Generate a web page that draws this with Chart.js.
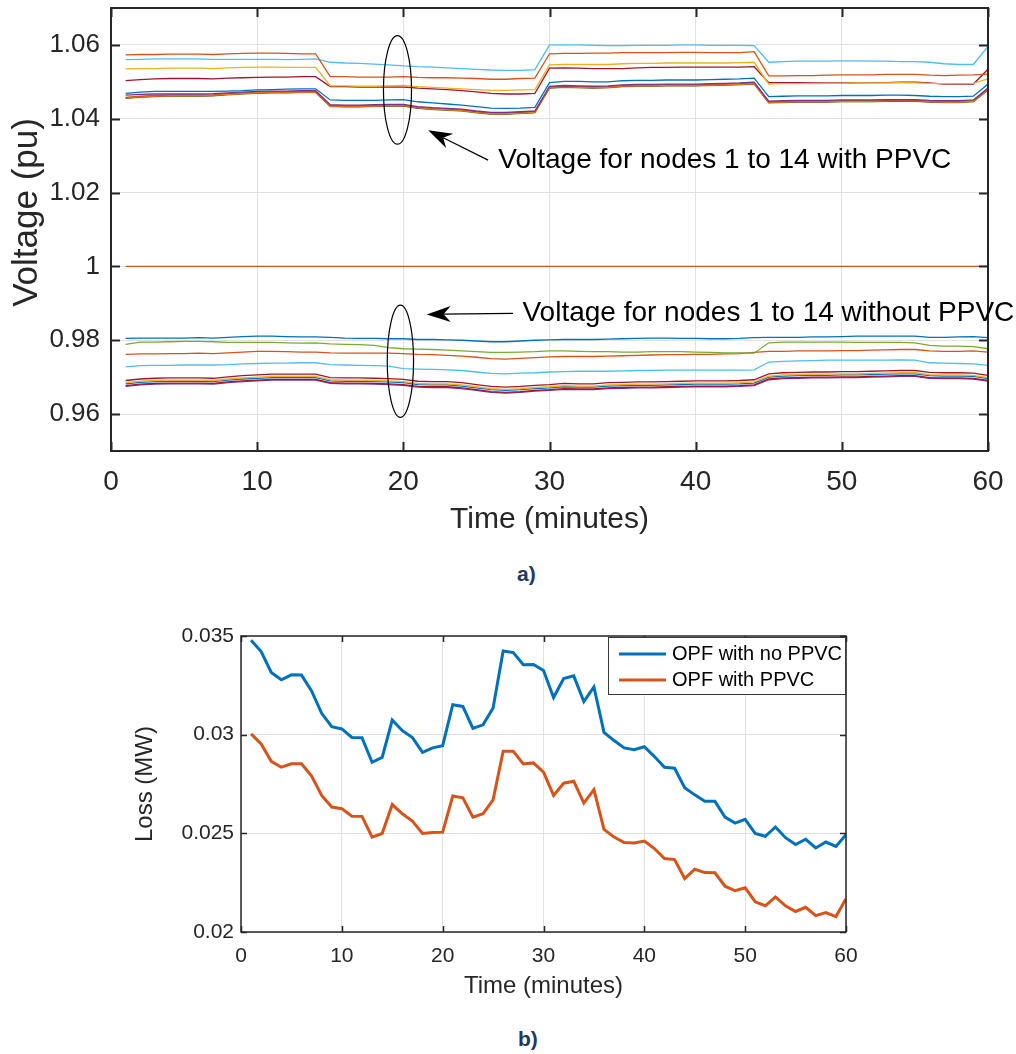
<!DOCTYPE html>
<html>
<head>
<meta charset="utf-8">
<script src="https://cdn.jsdelivr.net/npm/chart.js@4.4.1/dist/chart.umd.min.js"></script>
<style>
    body { margin: 0; background: #fff; width: 1016px; height: 1054px; position: relative; overflow: hidden; font-family: "Liberation Sans", Arial, sans-serif; }
    #voltChart { position: absolute; left: 0; top: 0; }
    #lossChart { position: absolute; left: 0; top: 600px; }
    .cap { position: absolute; font-weight: bold; font-size: 21px; color: #1f3864; }
</style>
</head>
<body>
<canvas id="voltChart" width="1016" height="560"></canvas>
<div class="cap" style="left:517px;top:562px">a)</div>
<canvas id="lossChart" width="1016" height="410"></canvas>
<div class="cap" style="left:518px;top:1027px">b)</div>
<script>
const minutes = [1, 2, 3, 4, 5, 6, 7, 8, 9, 10, 11, 12, 13, 14, 15, 16, 17, 18, 19, 20,
    21, 22, 23, 24, 25, 26, 27, 28, 29, 30, 31, 32, 33, 34, 35, 36, 37, 38, 39, 40,
    41, 42, 43, 44, 45, 46, 47, 48, 49, 50, 51, 52, 53, 54, 55, 56, 57, 58, 59, 60];
const timeTicks = [0, 10, 20, 30, 40, 50, 60];
const voltTicks = [0.96, 0.98, 1, 1.02, 1.04, 1.06];
const lossTicks = [0.02, 0.025, 0.03, 0.035];

// node voltages with PPVC (pu)
const ppvcOrange = [1.0573, 1.0574, 1.0574, 1.0575, 1.0575, 1.0575, 1.0574, 1.0576, 1.0577, 1.0578, 1.0578, 1.0577, 1.0576, 1.0576,
    1.0514, 1.0514, 1.0513, 1.0513, 1.0513, 1.0514, 1.0512, 1.0511, 1.0511, 1.0510, 1.0509, 1.0507, 1.0507, 1.0509, 1.0510,
    1.0576, 1.0577, 1.0577, 1.0578, 1.0578, 1.0579, 1.0579, 1.0579, 1.0579, 1.0580, 1.0580, 1.0579, 1.0579, 1.0579, 1.0582,
    1.0516, 1.0516, 1.0517, 1.0517, 1.0518, 1.0519, 1.0519, 1.0519, 1.0520, 1.0520, 1.0520, 1.0518, 1.0517, 1.0518, 1.0519, 1.0521];
const ppvcLightBlue = [1.0560, 1.0561, 1.0562, 1.0562, 1.0562, 1.0562, 1.0561, 1.0561, 1.0561, 1.0561, 1.0561, 1.0560, 1.0561, 1.0562,
    1.0553, 1.0551, 1.0550, 1.0548, 1.0546, 1.0543, 1.0541, 1.0540, 1.0538, 1.0536, 1.0534, 1.0532, 1.0531, 1.0531, 1.0533,
    1.0600, 1.0600, 1.0600, 1.0599, 1.0598, 1.0598, 1.0599, 1.0599, 1.0599, 1.0600, 1.0600, 1.0599, 1.0599, 1.0599, 1.0598,
    1.0553, 1.0555, 1.0556, 1.0556, 1.0556, 1.0557, 1.0557, 1.0556, 1.0556, 1.0555, 1.0555, 1.0553, 1.0549, 1.0547, 1.0547, 1.0596];
const ppvcYellow = [1.0535, 1.0536, 1.0536, 1.0537, 1.0537, 1.0537, 1.0536, 1.0538, 1.0539, 1.0540, 1.0540, 1.0539, 1.0539, 1.0539,
    1.0489, 1.0489, 1.0488, 1.0488, 1.0489, 1.0490, 1.0487, 1.0485, 1.0483, 1.0481, 1.0479, 1.0477, 1.0477, 1.0478, 1.0479,
    1.0546, 1.0547, 1.0547, 1.0547, 1.0547, 1.0549, 1.0550, 1.0550, 1.0551, 1.0551, 1.0551, 1.0551, 1.0551, 1.0552, 1.0553,
    1.0494, 1.0495, 1.0495, 1.0495, 1.0496, 1.0496, 1.0497, 1.0497, 1.0497, 1.0498, 1.0497, 1.0496, 1.0495, 1.0495, 1.0496, 1.0508];
const ppvcDarkRed = [1.0503, 1.0506, 1.0508, 1.0509, 1.0509, 1.0509, 1.0508, 1.0510, 1.0511, 1.0512, 1.0513, 1.0513, 1.0514, 1.0514,
    1.0487, 1.0487, 1.0486, 1.0486, 1.0486, 1.0486, 1.0483, 1.0481, 1.0479, 1.0476, 1.0473, 1.0469, 1.0467, 1.0467, 1.0469,
    1.0537, 1.0538, 1.0537, 1.0536, 1.0536, 1.0536, 1.0538, 1.0539, 1.0539, 1.0540, 1.0540, 1.0540, 1.0540, 1.0540, 1.0541,
    1.0498, 1.0498, 1.0498, 1.0497, 1.0497, 1.0497, 1.0497, 1.0498, 1.0498, 1.0499, 1.0499, 1.0497, 1.0494, 1.0494, 1.0494, 1.0534];
const ppvcBlue = [1.0469, 1.0472, 1.0474, 1.0474, 1.0474, 1.0474, 1.0474, 1.0475, 1.0476, 1.0478, 1.0479, 1.0480, 1.0481, 1.0481,
    1.0451, 1.0450, 1.0450, 1.0450, 1.0451, 1.0452, 1.0446, 1.0443, 1.0440, 1.0437, 1.0433, 1.0429, 1.0428, 1.0429, 1.0431,
    1.0498, 1.0501, 1.0501, 1.0500, 1.0500, 1.0503, 1.0504, 1.0504, 1.0505, 1.0505, 1.0505, 1.0506, 1.0507, 1.0508, 1.0510,
    1.0460, 1.0461, 1.0462, 1.0462, 1.0462, 1.0463, 1.0463, 1.0463, 1.0464, 1.0464, 1.0463, 1.0461, 1.0460, 1.0460, 1.0461, 1.0494];
const ppvcPurple = [1.0464, 1.0466, 1.0467, 1.0467, 1.0467, 1.0467, 1.0468, 1.0470, 1.0472, 1.0474, 1.0475, 1.0475, 1.0476, 1.0476,
    1.0438, 1.0437, 1.0437, 1.0438, 1.0439, 1.0439, 1.0433, 1.0430, 1.0428, 1.0426, 1.0421, 1.0417, 1.0417, 1.0419, 1.0421,
    1.0488, 1.0490, 1.0489, 1.0488, 1.0489, 1.0492, 1.0493, 1.0493, 1.0494, 1.0494, 1.0494, 1.0495, 1.0496, 1.0497, 1.0499,
    1.0448, 1.0449, 1.0450, 1.0450, 1.0450, 1.0451, 1.0451, 1.0451, 1.0452, 1.0452, 1.0452, 1.0450, 1.0449, 1.0449, 1.0451, 1.0483];
const ppvcOrange2 = [1.0458, 1.0461, 1.0463, 1.0464, 1.0464, 1.0464, 1.0465, 1.0468, 1.0470, 1.0472, 1.0473, 1.0473, 1.0474, 1.0474,
    1.0436, 1.0435, 1.0435, 1.0436, 1.0437, 1.0437, 1.0431, 1.0428, 1.0426, 1.0424, 1.0419, 1.0415, 1.0415, 1.0417, 1.0419,
    1.0486, 1.0488, 1.0487, 1.0486, 1.0487, 1.0490, 1.0491, 1.0491, 1.0492, 1.0492, 1.0492, 1.0493, 1.0494, 1.0495, 1.0497,
    1.0446, 1.0447, 1.0448, 1.0448, 1.0448, 1.0449, 1.0449, 1.0449, 1.0450, 1.0450, 1.0450, 1.0448, 1.0447, 1.0447, 1.0449, 1.0481];
const ppvcYellow2 = [1.0457, 1.0460, 1.0462, 1.0463, 1.0463, 1.0463, 1.0464, 1.0467, 1.0469, 1.0471, 1.0472, 1.0472, 1.0473, 1.0473,
    1.0435, 1.0434, 1.0434, 1.0435, 1.0436, 1.0436, 1.0430, 1.0427, 1.0425, 1.0423, 1.0418, 1.0414, 1.0414, 1.0416, 1.0418,
    1.0485, 1.0487, 1.0486, 1.0485, 1.0486, 1.0489, 1.0490, 1.0490, 1.0491, 1.0491, 1.0491, 1.0492, 1.0493, 1.0494, 1.0496,
    1.0445, 1.0446, 1.0447, 1.0447, 1.0447, 1.0448, 1.0448, 1.0448, 1.0449, 1.0449, 1.0449, 1.0447, 1.0446, 1.0446, 1.0448, 1.0480];
const ppvcDarkRed2 = [1.0456, 1.0459, 1.0461, 1.0462, 1.0462, 1.0462, 1.0463, 1.0466, 1.0468, 1.0470, 1.0471, 1.0471, 1.0472, 1.0472,
    1.0434, 1.0433, 1.0433, 1.0434, 1.0435, 1.0435, 1.0429, 1.0426, 1.0424, 1.0422, 1.0417, 1.0413, 1.0413, 1.0415, 1.0417,
    1.0484, 1.0486, 1.0485, 1.0484, 1.0485, 1.0488, 1.0489, 1.0489, 1.0490, 1.0490, 1.0490, 1.0491, 1.0492, 1.0493, 1.0495,
    1.0444, 1.0445, 1.0446, 1.0446, 1.0446, 1.0447, 1.0447, 1.0447, 1.0448, 1.0448, 1.0448, 1.0446, 1.0445, 1.0445, 1.0447, 1.0479];
const ppvcGreen = [1.0455, 1.0458, 1.0460, 1.0461, 1.0461, 1.0461, 1.0462, 1.0465, 1.0467, 1.0469, 1.0470, 1.0470, 1.0471, 1.0471,
    1.0433, 1.0432, 1.0432, 1.0433, 1.0434, 1.0434, 1.0428, 1.0425, 1.0423, 1.0421, 1.0416, 1.0412, 1.0412, 1.0414, 1.0416,
    1.0483, 1.0485, 1.0484, 1.0483, 1.0484, 1.0487, 1.0488, 1.0488, 1.0489, 1.0489, 1.0489, 1.0490, 1.0491, 1.0492, 1.0494,
    1.0443, 1.0444, 1.0445, 1.0445, 1.0445, 1.0446, 1.0446, 1.0446, 1.0447, 1.0447, 1.0447, 1.0445, 1.0444, 1.0444, 1.0446, 1.0478];

// slack node, fixed at 1 pu
const slackNode = [1, 1, 1, 1, 1, 1, 1, 1, 1, 1, 1, 1, 1, 1, 1, 1, 1, 1, 1, 1,
    1, 1, 1, 1, 1, 1, 1, 1, 1, 1, 1, 1, 1, 1, 1, 1, 1, 1, 1, 1,
    1, 1, 1, 1, 1, 1, 1, 1, 1, 1, 1, 1, 1, 1, 1, 1, 1, 1, 1, 1];

// node voltages without PPVC (pu)
const noPpvcBlue = [0.9805, 0.9806, 0.9806, 0.9806, 0.9806, 0.9807, 0.9806, 0.9808, 0.9810, 0.9811, 0.9811, 0.9810, 0.9809, 0.9809,
    0.9808, 0.9806, 0.9805, 0.9805, 0.9804, 0.9804, 0.9802, 0.9802, 0.9801, 0.9800, 0.9798, 0.9796, 0.9796, 0.9798, 0.9800,
    0.9801, 0.9802, 0.9802, 0.9802, 0.9803, 0.9804, 0.9805, 0.9806, 0.9806, 0.9805, 0.9805, 0.9804, 0.9804, 0.9805, 0.9807,
    0.9808, 0.9808, 0.9808, 0.9809, 0.9809, 0.9810, 0.9811, 0.9811, 0.9811, 0.9811, 0.9811, 0.9808, 0.9808, 0.9809, 0.9810, 0.9807];
const noPpvcGreen = [0.9789, 0.9795, 0.9795, 0.9796, 0.9797, 0.9797, 0.9796, 0.9794, 0.9794, 0.9794, 0.9794, 0.9793, 0.9792, 0.9793,
    0.9790, 0.9789, 0.9788, 0.9786, 0.9780, 0.9777, 0.9776, 0.9775, 0.9773, 0.9771, 0.9769, 0.9767, 0.9767, 0.9768, 0.9769,
    0.9771, 0.9771, 0.9770, 0.9769, 0.9769, 0.9768, 0.9768, 0.9769, 0.9769, 0.9769, 0.9768, 0.9767, 0.9766, 0.9766, 0.9765,
    0.9793, 0.9795, 0.9795, 0.9795, 0.9795, 0.9795, 0.9794, 0.9794, 0.9794, 0.9794, 0.9793, 0.9786, 0.9784, 0.9784, 0.9783, 0.9777];
const noPpvcOrange = [0.9762, 0.9763, 0.9763, 0.9764, 0.9764, 0.9765, 0.9764, 0.9766, 0.9768, 0.9770, 0.9770, 0.9769, 0.9768, 0.9768,
    0.9766, 0.9765, 0.9765, 0.9765, 0.9765, 0.9764, 0.9762, 0.9761, 0.9759, 0.9757, 0.9754, 0.9750, 0.9749, 0.9751, 0.9753,
    0.9755, 0.9756, 0.9756, 0.9756, 0.9757, 0.9758, 0.9759, 0.9760, 0.9761, 0.9761, 0.9762, 0.9762, 0.9763, 0.9764, 0.9767,
    0.9770, 0.9770, 0.9771, 0.9771, 0.9771, 0.9772, 0.9772, 0.9773, 0.9774, 0.9775, 0.9775, 0.9771, 0.9770, 0.9770, 0.9771, 0.9768];
const noPpvcLightBlue = [0.9728, 0.9731, 0.9732, 0.9732, 0.9733, 0.9733, 0.9733, 0.9734, 0.9736, 0.9737, 0.9738, 0.9738, 0.9739, 0.9739,
    0.9734, 0.9733, 0.9732, 0.9731, 0.9730, 0.9723, 0.9722, 0.9721, 0.9720, 0.9718, 0.9714, 0.9710, 0.9709, 0.9711, 0.9712,
    0.9714, 0.9715, 0.9716, 0.9716, 0.9716, 0.9717, 0.9718, 0.9718, 0.9719, 0.9719, 0.9719, 0.9719, 0.9719, 0.9719, 0.9720,
    0.9741, 0.9743, 0.9744, 0.9745, 0.9746, 0.9746, 0.9746, 0.9746, 0.9746, 0.9747, 0.9746, 0.9739, 0.9738, 0.9737, 0.9736, 0.9732];
const noPpvcDarkRed = [0.9691, 0.9695, 0.9697, 0.9698, 0.9698, 0.9698, 0.9697, 0.9701, 0.9704, 0.9706, 0.9708, 0.9708, 0.9708, 0.9708,
    0.9699, 0.9698, 0.9698, 0.9697, 0.9696, 0.9694, 0.9689, 0.9688, 0.9688, 0.9685, 0.9680, 0.9675, 0.9673, 0.9675, 0.9678,
    0.9680, 0.9683, 0.9682, 0.9682, 0.9685, 0.9686, 0.9687, 0.9687, 0.9688, 0.9689, 0.9690, 0.9690, 0.9690, 0.9691, 0.9693,
    0.9709, 0.9712, 0.9713, 0.9714, 0.9714, 0.9715, 0.9715, 0.9716, 0.9717, 0.9718, 0.9718, 0.9713, 0.9712, 0.9712, 0.9711, 0.9705];
const noPpvcYellow = [0.9685, 0.9689, 0.9691, 0.9692, 0.9692, 0.9692, 0.9691, 0.9695, 0.9698, 0.9700, 0.9702, 0.9702, 0.9702, 0.9702,
    0.9693, 0.9692, 0.9692, 0.9691, 0.9690, 0.9688, 0.9683, 0.9682, 0.9682, 0.9679, 0.9674, 0.9669, 0.9667, 0.9669, 0.9672,
    0.9674, 0.9677, 0.9676, 0.9676, 0.9679, 0.9680, 0.9681, 0.9681, 0.9682, 0.9683, 0.9684, 0.9684, 0.9684, 0.9685, 0.9687,
    0.9703, 0.9706, 0.9707, 0.9708, 0.9708, 0.9709, 0.9709, 0.9710, 0.9711, 0.9712, 0.9712, 0.9707, 0.9706, 0.9706, 0.9705, 0.9699];
const noPpvcBlue2 = [0.9682, 0.9686, 0.9688, 0.9689, 0.9689, 0.9689, 0.9688, 0.9692, 0.9695, 0.9697, 0.9699, 0.9699, 0.9699, 0.9699,
    0.9690, 0.9689, 0.9689, 0.9688, 0.9687, 0.9685, 0.9680, 0.9679, 0.9679, 0.9676, 0.9671, 0.9666, 0.9664, 0.9666, 0.9669,
    0.9671, 0.9674, 0.9673, 0.9673, 0.9676, 0.9677, 0.9678, 0.9678, 0.9679, 0.9680, 0.9681, 0.9681, 0.9681, 0.9682, 0.9684,
    0.9700, 0.9703, 0.9704, 0.9705, 0.9705, 0.9706, 0.9706, 0.9707, 0.9708, 0.9709, 0.9709, 0.9704, 0.9703, 0.9703, 0.9702, 0.9696];
const noPpvcDarkRed2 = [0.9677, 0.9681, 0.9683, 0.9684, 0.9684, 0.9684, 0.9683, 0.9687, 0.9690, 0.9692, 0.9694, 0.9694, 0.9694, 0.9694,
    0.9685, 0.9684, 0.9684, 0.9683, 0.9682, 0.9680, 0.9675, 0.9674, 0.9674, 0.9671, 0.9666, 0.9661, 0.9659, 0.9661, 0.9664,
    0.9666, 0.9669, 0.9668, 0.9668, 0.9671, 0.9672, 0.9673, 0.9673, 0.9674, 0.9675, 0.9676, 0.9676, 0.9676, 0.9677, 0.9679,
    0.9695, 0.9698, 0.9699, 0.9700, 0.9700, 0.9701, 0.9701, 0.9702, 0.9703, 0.9704, 0.9704, 0.9699, 0.9698, 0.9698, 0.9697, 0.9691];
const noPpvcPurple = [0.9675, 0.9679, 0.9681, 0.9682, 0.9682, 0.9682, 0.9681, 0.9685, 0.9688, 0.9690, 0.9692, 0.9692, 0.9692, 0.9692,
    0.9683, 0.9682, 0.9682, 0.9681, 0.9680, 0.9678, 0.9673, 0.9672, 0.9672, 0.9669, 0.9664, 0.9659, 0.9657, 0.9659, 0.9662,
    0.9664, 0.9667, 0.9666, 0.9666, 0.9669, 0.9670, 0.9671, 0.9671, 0.9672, 0.9673, 0.9674, 0.9674, 0.9674, 0.9675, 0.9677,
    0.9693, 0.9696, 0.9697, 0.9698, 0.9698, 0.9699, 0.9699, 0.9700, 0.9701, 0.9702, 0.9702, 0.9697, 0.9696, 0.9696, 0.9695, 0.9689];

// network losses (MW)
const lossNoPpvc = [0.03478, 0.03421, 0.03315, 0.03278, 0.03303, 0.03302, 0.03222, 0.03108, 0.0304, 0.03029,
    0.02986, 0.02985, 0.0286, 0.02885, 0.03074, 0.0302, 0.02985, 0.0291, 0.02933, 0.02944,
    0.03152, 0.03143, 0.03032, 0.0305, 0.03135, 0.03424, 0.03416, 0.03354, 0.03356, 0.03325,
    0.03188, 0.03284, 0.03298, 0.03168, 0.03242, 0.03012, 0.0297, 0.02933, 0.02924, 0.02939,
    0.02889, 0.02835, 0.0283, 0.02731, 0.02695, 0.02662, 0.02662, 0.02582, 0.02552, 0.02571,
    0.02499, 0.02485, 0.02532, 0.02478, 0.02443, 0.0247, 0.02426, 0.02456, 0.02434, 0.02493];
const lossPpvc = [0.03004, 0.02953, 0.02865, 0.02835, 0.02852, 0.02852, 0.0279, 0.02692, 0.02633, 0.02625,
    0.02587, 0.02586, 0.02481, 0.02499, 0.02646, 0.02599, 0.02562, 0.02499, 0.02504, 0.02506,
    0.02689, 0.0268, 0.02582, 0.02599, 0.0267, 0.02916, 0.02916, 0.02852, 0.02857, 0.0281,
    0.02692, 0.02754, 0.02764, 0.02653, 0.02721, 0.0252, 0.02481, 0.02453, 0.02451, 0.02461,
    0.02423, 0.02372, 0.02367, 0.02271, 0.02318, 0.02301, 0.023, 0.02232, 0.02209, 0.02224,
    0.02153, 0.02133, 0.02178, 0.02133, 0.02104, 0.02125, 0.02083, 0.02098, 0.02078, 0.02169];

const C = {
    blue: "#0072BD", orange: "#D95319", yellow: "#EDB120", purple: "#7E2F8E",
    green: "#77AC30", lightBlue: "#4DBEEE", darkRed: "#A2142F",
};
const FONT = "'Liberation Sans', Arial, Helvetica, sans-serif";
const INK = "#262626";

function pts(values) {
    return values.map((v, i) => ({ x: minutes[i], y: v }));
}

function line(values, color, width) {
    return { data: pts(values), borderColor: color, borderWidth: width, pointRadius: 0, tension: 0, fill: false };
}

function fmtTick(v) {
    return String(+Number(v).toFixed(3));
}

// MATLAB style box with inward ticks on all four sides
const boxTicks = {
    id: "boxTicks",
    afterDatasetsDraw(chart, args, opts) {
        const { ctx, chartArea: a, scales: { x, y } } = chart;
        ctx.save();
        ctx.strokeStyle = INK;
        ctx.lineWidth = opts.width;
        ctx.beginPath();
        x.ticks.forEach((t) => {
            const px = Math.round(x.getPixelForValue(t.value)) + 0.5;
            ctx.moveTo(px, a.bottom); ctx.lineTo(px, a.bottom - opts.len);
            ctx.moveTo(px, a.top); ctx.lineTo(px, a.top + opts.len);
        });
        y.ticks.forEach((t) => {
            const py = Math.round(y.getPixelForValue(t.value)) + 0.5;
            ctx.moveTo(a.left, py); ctx.lineTo(a.left + opts.len, py);
            ctx.moveTo(a.right, py); ctx.lineTo(a.right - opts.len, py);
        });
        ctx.stroke();
        ctx.strokeRect(a.left, a.top, a.right - a.left, a.bottom - a.top);
        ctx.restore();
    },
};

function arrow(ctx, x0, y0, x1, y1, len, half) {
    const ang = Math.atan2(y1 - y0, x1 - x0);
    const c = Math.cos(ang), s = Math.sin(ang);
    ctx.beginPath();
    ctx.moveTo(x0, y0);
    ctx.lineTo(x1 - c * len * 0.7, y1 - s * len * 0.7);
    ctx.stroke();
    ctx.beginPath();
    ctx.moveTo(x1, y1);
    ctx.lineTo(x1 - len * c + half * s, y1 - len * s - half * c);
    ctx.lineTo(x1 - len * 0.7 * c, y1 - len * 0.7 * s);
    ctx.lineTo(x1 - len * c - half * s, y1 - len * s + half * c);
    ctx.closePath();
    ctx.fill();
}

// ellipses, arrows and notes, placed in data units
const notes = [
    { ellipse: [19.6, 1.0478, 0.96, 0.0147], tail: [25.8, 1.0288], tip: [21.7, 1.0369],
      text: "Voltage for nodes 1 to 14 with PPVC", at: [26.5, 1.0288] },
    { ellipse: [19.8, 0.9743, 0.9, 0.0152], tail: [27.5, 0.9873], tip: [21.6, 0.9870],
      text: "Voltage for nodes 1 to 14 without PPVC", at: [28.15, 0.9873] },
];

const noteLayer = {
    id: "noteLayer",
    afterDraw(chart) {
        const { ctx, chartArea: a, scales: { x, y } } = chart;
        ctx.save();
        ctx.strokeStyle = "#000";
        ctx.fillStyle = "#000";
        ctx.lineWidth = 1.2;
        notes.forEach((n) => {
            const [cx, cy, rx, ry] = n.ellipse;
            const px = x.getPixelForValue(cx), py = y.getPixelForValue(cy);
            ctx.beginPath();
            ctx.ellipse(px, py, Math.abs(x.getPixelForValue(cx + rx) - px), Math.abs(y.getPixelForValue(cy + ry) - py), 0, 0, Math.PI * 2);
            ctx.stroke();
            arrow(ctx, x.getPixelForValue(n.tail[0]), y.getPixelForValue(n.tail[1]),
                x.getPixelForValue(n.tip[0]), y.getPixelForValue(n.tip[1]), 24, 8);
            ctx.font = `28px ${FONT}`;
            ctx.textBaseline = "middle";
            ctx.fillText(n.text, x.getPixelForValue(n.at[0]), y.getPixelForValue(n.at[1]));
        });
        // y axis title, set a little above the axis centre as in the source figure
        ctx.fillStyle = INK;
        ctx.font = `35px ${FONT}`;
        ctx.textAlign = "center";
        ctx.translate(27, (a.top + a.bottom) / 2 - 17);
        ctx.rotate(-Math.PI / 2);
        ctx.fillText("Voltage (pu)", 0, 0);
        ctx.restore();
    },
};

const lossLegend = {
    id: "lossLegend",
    afterDraw(chart) {
        const { ctx, chartArea: a } = chart;
        const w = 238, h = 58, left = a.right - w, top = a.top + 1;
        ctx.save();
        ctx.fillStyle = "#fff";
        ctx.fillRect(left, top, w, h);
        ctx.strokeStyle = "#3a3a3a";
        ctx.lineWidth = 1;
        ctx.strokeRect(left + 0.5, top + 0.5, w - 1, h - 1);
        ctx.font = `20px ${FONT}`;
        ctx.textBaseline = "middle";
        chart.data.datasets.forEach((ds, i) => {
            const yy = top + 17 + i * 26;
            ctx.strokeStyle = ds.borderColor;
            ctx.lineWidth = 3;
            ctx.beginPath();
            ctx.moveTo(left + 11, yy);
            ctx.lineTo(left + 58, yy);
            ctx.stroke();
            ctx.fillStyle = "#000";
            ctx.fillText(ds.label, left + 64, yy);
        });
        ctx.restore();
    },
};

function axes(o) {
    return {
        x: {
            type: "linear", min: 0, max: 60,
            afterBuildTicks: (s) => { s.ticks = timeTicks.map((v) => ({ value: v })); },
            afterFit: (s) => { s.height = o.xHeight; s.paddingLeft = 0; s.paddingRight = 0; },
            grid: { color: "#e1e1e1", drawTicks: false, lineWidth: 1 },
            border: { display: false },
            ticks: { color: INK, padding: o.xPad, font: { family: FONT, size: o.xTickSize }, maxRotation: 0 },
            title: { display: true, text: "Time (minutes)", color: INK, padding: { top: 0, bottom: o.xTitlePad },
                font: { family: FONT, size: o.titleSize } },
        },
        y: {
            type: "linear", min: o.yMin, max: o.yMax,
            afterBuildTicks: (s) => { s.ticks = o.yTicks.map((v) => ({ value: v })); },
            afterFit: (s) => { s.width = o.yWidth; s.paddingTop = 0; s.paddingBottom = 0; },
            grid: { color: "#e1e1e1", drawTicks: false, lineWidth: 1 },
            border: { display: false },
            ticks: { color: INK, padding: o.yPad, font: { family: FONT, size: o.yTickSize }, callback: fmtTick },
            title: { display: !!o.yTitle, text: o.yTitle, color: INK, padding: { top: o.yTitlePad, bottom: 0 },
                font: { family: FONT, size: o.yTitleSize } },
        },
    };
}

const voltLines = [
    line(ppvcOrange, C.orange, 1.3), line(ppvcLightBlue, C.lightBlue, 1.3), line(ppvcYellow, C.yellow, 1.3),
    line(ppvcDarkRed, C.darkRed, 1.3), line(ppvcBlue, C.blue, 1.3), line(ppvcPurple, C.purple, 1.3),
    line(ppvcOrange2, C.orange, 1.3), line(ppvcYellow2, C.yellow, 1.3), line(ppvcDarkRed2, C.darkRed, 1.3),
    line(ppvcGreen, C.green, 1.3),
    line(slackNode, C.orange, 1.3),
    line(noPpvcBlue, C.blue, 1.3), line(noPpvcGreen, C.green, 1.3), line(noPpvcOrange, C.orange, 1.3),
    line(noPpvcLightBlue, C.lightBlue, 1.3), line(noPpvcDarkRed, C.darkRed, 1.3), line(noPpvcYellow, C.yellow, 1.3),
    line(noPpvcBlue2, C.blue, 1.3), line(noPpvcDarkRed2, C.darkRed, 1.3), line(noPpvcPurple, C.purple, 1.3),
];

new Chart(document.getElementById("voltChart"), {
    type: "line",
    data: { datasets: voltLines },
    options: {
        responsive: false, animation: false,
        layout: { padding: { left: 0, top: 8, right: 28, bottom: 9 } },
        scales: axes({ xHeight: 100, xPad: 14, xTitlePad: 13, xTickSize: 28, yTickSize: 26, titleSize: 30,
            yMin: 0.95, yMax: 1.07, yTicks: voltTicks, yWidth: 111, yPad: 11, yTitle: "" }),
        plugins: { legend: { display: false }, tooltip: { enabled: false }, boxTicks: { width: 2, len: 9 } },
    },
    plugins: [boxTicks, noteLayer],
});

new Chart(document.getElementById("lossChart"), {
    type: "line",
    data: {
        datasets: [
            { label: "OPF with no PPVC", ...line(lossNoPpvc, C.blue, 3) },
            { label: "OPF with PPVC", ...line(lossPpvc, C.orange, 3) },
        ],
    },
    options: {
        responsive: false, animation: false,
        layout: { padding: { left: 0, top: 36, right: 170, bottom: 8 } },
        scales: axes({ xHeight: 70, xPad: 12, xTitlePad: 1, xTickSize: 21, yTickSize: 21, titleSize: 24,
            yMin: 0.02, yMax: 0.035, yTicks: lossTicks, yWidth: 241, yPad: 7,
            yTitle: "Loss (MW)", yTitlePad: 131, yTitleSize: 24 }),
        plugins: { legend: { display: false }, tooltip: { enabled: false }, boxTicks: { width: 1.5, len: 6 } },
    },
    plugins: [boxTicks, lossLegend],
});
</script>
</body>
</html>
